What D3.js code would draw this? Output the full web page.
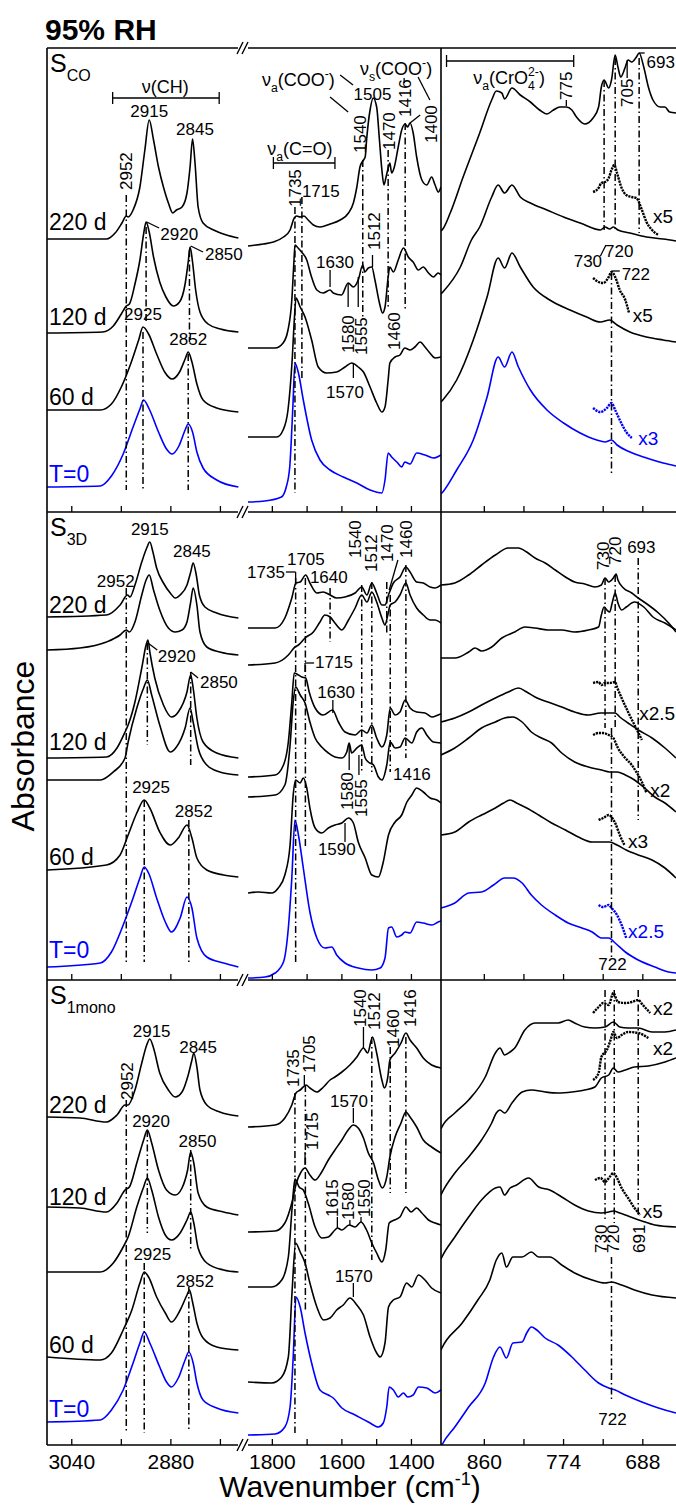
<!DOCTYPE html>
<html>
<head>
<meta charset="utf-8">
<script src="https://cdn.jsdelivr.net/npm/d3@7"></script>
<style>
  body { margin: 0; background: #fff; }
  svg { display: block; }
</style>
</head>
<body>
<svg id="chart" width="676" height="1506"></svg>
<script>
// ---------- axis extents (cm-1) and ticks ----------
const chDomain = [3080, 2770];
const cooDomain = [1870, 1315];
const crDomain = [907, 652];
const chTicks = [3040, 2960, 2880, 2800];
const chTickLabels = [3040, 2880];
const cooTicks = [1800, 1700, 1600, 1500, 1400];
const cooTickLabels = [1800, 1600, 1400];
const crTicks = [860, 817, 774, 731, 688];
const crTickLabels = [860, 774, 688];

// ---------- S_CO spectra: [wavenumber, absorbance (a.u., offset)] ----------
const coCH220 = [[3080,2.73],[2984,2.73],[2970,2.79],[2959,2.89],[2952,2.96],[2949,2.95],[2941,3.02],[2930,3.25],[2922,3.62],[2915,3.92],[2908,3.72],[2900,3.45],[2892,3.25],[2884,3.09],[2877,2.99],[2871,3.02],[2862,3.05],[2854,3.19],[2849,3.45],[2845,3.73],[2841,3.49],[2836,3.05],[2828,2.89],[2811,2.82],[2790,2.77],[2771,2.74]];
const coCH120 = [[3080,1.79],[2990,1.80],[2973,1.86],[2960,1.98],[2952,2.06],[2947,2.08],[2938,2.28],[2930,2.52],[2924,2.78],[2920,2.90],[2915,2.80],[2908,2.55],[2898,2.30],[2888,2.15],[2876,2.06],[2866,2.10],[2857,2.28],[2852,2.50],[2849,2.65],[2845,2.50],[2840,2.22],[2833,2.00],[2820,1.88],[2800,1.83],[2771,1.80]];
const coCH60 = [[3080,1.02],[2994,1.02],[2976,1.08],[2960,1.25],[2945,1.48],[2932,1.72],[2925,1.85],[2916,1.78],[2903,1.58],[2890,1.40],[2878,1.33],[2866,1.40],[2857,1.53],[2852,1.60],[2846,1.50],[2838,1.28],[2828,1.12],[2806,1.04],[2771,1.00]];
const coCH0 = [[3080,0.25],[2994,0.26],[2976,0.36],[2957,0.58],[2941,0.85],[2930,1.03],[2924,1.12],[2915,1.03],[2900,0.80],[2887,0.63],[2878,0.58],[2867,0.66],[2857,0.82],[2852,0.88],[2845,0.80],[2838,0.60],[2828,0.44],[2806,0.32],[2771,0.25]];

const coCOO220 = [[1870,2.66],[1826,2.68],[1797,2.70],[1768,2.75],[1749,2.82],[1737,2.94],[1730,2.96],[1720,2.95],[1709,2.96],[1697,2.92],[1682,2.87],[1663,2.85],[1634,2.88],[1605,2.92],[1581,2.99],[1567,3.09],[1557,3.25],[1548,3.45],[1538,3.52],[1533,3.55],[1529,3.72],[1519,4.02],[1510,4.14],[1500,4.05],[1492,3.72],[1485,3.42],[1479,3.27],[1473,3.35],[1466,3.45],[1462,3.49],[1457,3.39],[1450,3.44],[1438,3.65],[1428,3.82],[1418,3.88],[1411,3.85],[1404,3.89],[1395,3.79],[1385,3.55],[1370,3.32],[1356,3.27],[1342,3.35],[1332,3.27],[1323,3.20],[1315,3.25]];
const coCOO120 = [[1870,1.64],[1792,1.64],[1769,1.69],[1755,1.82],[1744,2.12],[1738,2.50],[1735,2.67],[1726,2.64],[1716,2.60],[1701,2.52],[1689,2.37],[1672,2.22],[1654,2.19],[1634,2.22],[1625,2.19],[1601,2.17],[1582,2.29],[1567,2.25],[1553,2.32],[1540,2.47],[1534,2.40],[1524,2.44],[1514,2.45],[1505,2.32],[1492,2.09],[1483,1.99],[1476,2.05],[1467,2.35],[1462,2.45],[1452,2.40],[1438,2.52],[1423,2.64],[1409,2.55],[1395,2.50],[1380,2.42],[1366,2.45],[1351,2.39],[1337,2.35],[1323,2.39],[1315,2.37]];
const coCOO60 = [[1870,0.75],[1787,0.75],[1769,0.82],[1755,1.02],[1743,1.52],[1736,1.97],[1732,2.14],[1720,2.05],[1706,1.95],[1687,1.72],[1668,1.45],[1644,1.39],[1615,1.40],[1591,1.45],[1572,1.49],[1553,1.45],[1538,1.40],[1519,1.25],[1500,1.09],[1485,1.00],[1476,1.05],[1467,1.32],[1462,1.49],[1447,1.55],[1433,1.57],[1419,1.64],[1404,1.62],[1390,1.65],[1375,1.70],[1361,1.65],[1347,1.59],[1332,1.54],[1315,1.55]];
const coCOO0 = [[1870,0.10],[1822,0.11],[1774,0.15],[1760,0.25],[1750,0.45],[1741,1.05],[1735,1.49],[1725,1.39],[1711,1.12],[1687,0.72],[1663,0.52],[1634,0.42],[1596,0.35],[1557,0.29],[1519,0.22],[1485,0.19],[1476,0.32],[1467,0.59],[1457,0.55],[1442,0.50],[1428,0.45],[1419,0.50],[1404,0.48],[1385,0.59],[1361,0.57],[1337,0.54],[1315,0.57]];

const coCr220 = [[907,2.81],[905,2.83],[897,2.99],[883,3.35],[865,3.79],[852,4.12],[847,4.21],[841,4.19],[838,4.13],[830,4.24],[821,4.17],[810,4.10],[800,4.02],[792,3.98],[785,4.02],[778,4.05],[771,4.05],[765,4.02],[760,3.95],[751,3.88],[742,3.94],[736,4.05],[733,4.25],[730,4.32],[725,4.24],[722,4.32],[718,4.57],[715,4.45],[712,4.35],[707,4.45],[704,4.52],[700,4.50],[695,4.55],[692,4.59],[687,4.45],[682,4.25],[677,4.12],[669,4.05],[664,4.05],[659,4.00],[652,3.99]];
const coCr120 = [[907,2.18],[905,2.20],[886,2.45],[874,2.72],[865,2.85],[852,3.15],[845,3.27],[838,3.19],[830,3.27],[821,3.15],[810,3.09],[792,3.02],[774,2.95],[756,2.89],[734,2.82],[729,2.85],[724,2.83],[720,2.85],[715,2.82],[702,2.79],[684,2.75],[666,2.73],[652,2.71]];
const coCr60 = [[907,1.10],[905,1.12],[890,1.32],[872,1.72],[857,2.15],[845,2.54],[838,2.44],[830,2.59],[821,2.45],[807,2.25],[789,2.12],[767,2.02],[749,1.95],[734,1.90],[724,1.92],[716,1.87],[702,1.80],[684,1.75],[666,1.72],[652,1.70]];
const coCr0 = [[907,0.18],[905,0.20],[890,0.42],[872,0.72],[857,1.15],[845,1.55],[838,1.45],[830,1.60],[823,1.45],[810,1.22],[792,1.02],[774,0.89],[756,0.79],[738,0.72],[729,0.70],[722,0.72],[716,0.67],[702,0.60],[684,0.54],[666,0.49],[652,0.46]];
// magnified traces (x5, x5, x3)
const coCr120x5 = [[742,3.20],[736,3.24],[733,3.29],[729,3.30],[725,3.34],[722,3.42],[719,3.47],[716,3.39],[711,3.24],[706,3.17],[700,3.15],[695,3.14],[689,3.02],[684,2.90],[678,2.82],[671,2.77]];
const coCr60x5 = [[742,2.34],[736,2.30],[731,2.29],[725,2.35],[722,2.40],[718,2.35],[713,2.22],[707,2.12],[703,1.99]];
const coCr0x3 = [[742,1.04],[734,1.00],[727,1.04],[722,1.09],[718,1.02],[713,0.92],[706,0.80],[700,0.74]];

// ---------- S_3D spectra ----------
const d3CH220 = [[3080,3.63],[2984,3.65],[2962,3.75],[2950,3.85],[2946,3.83],[2938,3.95],[2927,4.18],[2919,4.32],[2914,4.38],[2909,4.28],[2903,4.12],[2892,3.97],[2881,3.87],[2873,3.82],[2865,3.85],[2854,3.95],[2848,4.08],[2844,4.17],[2839,4.05],[2834,3.85],[2825,3.73],[2806,3.67],[2771,3.62]];
const d3CH220b = [[3080,3.30],[3027,3.32],[2984,3.38],[2962,3.45],[2952,3.50],[2947,3.48],[2938,3.58],[2927,3.85],[2920,4.00],[2915,4.05],[2908,3.90],[2898,3.70],[2884,3.52],[2873,3.48],[2862,3.50],[2854,3.58],[2848,3.78],[2844,3.92],[2838,3.75],[2833,3.48],[2822,3.33],[2801,3.28],[2771,3.25]];
const d3CH120 = [[3080,2.22],[2984,2.23],[2967,2.32],[2954,2.48],[2949,2.55],[2938,2.78],[2927,3.12],[2920,3.35],[2917,3.40],[2914,3.28],[2906,3.02],[2892,2.75],[2879,2.63],[2868,2.68],[2854,2.88],[2848,3.05],[2844,2.92],[2838,2.62],[2828,2.38],[2806,2.27],[2771,2.22]];
const d3CH120b = [[3080,2.00],[2994,2.00],[2973,2.08],[2954,2.22],[2949,2.38],[2935,2.72],[2924,2.92],[2918,3.00],[2911,2.85],[2898,2.55],[2881,2.28],[2871,2.33],[2857,2.52],[2849,2.72],[2844,2.58],[2836,2.32],[2822,2.15],[2801,2.08],[2771,2.05]];
const d3CH60 = [[3080,1.10],[2984,1.15],[2962,1.25],[2949,1.45],[2935,1.67],[2923,1.80],[2914,1.72],[2898,1.48],[2881,1.35],[2868,1.42],[2854,1.55],[2846,1.42],[2838,1.22],[2822,1.10],[2795,1.05],[2771,1.03]];
const d3CH0 = [[3080,0.13],[2994,0.17],[2976,0.28],[2957,0.55],[2941,0.82],[2930,1.02],[2923,1.13],[2916,1.07],[2903,0.82],[2889,0.58],[2879,0.48],[2865,0.62],[2854,0.83],[2846,0.72],[2838,0.42],[2822,0.23],[2795,0.17],[2771,0.13]];

const d3COO220 = [[1870,3.52],[1792,3.52],[1764,3.62],[1744,3.82],[1732,3.97],[1720,3.98],[1704,4.05],[1692,3.97],[1672,3.87],[1654,3.88],[1634,3.85],[1615,3.82],[1591,3.83],[1562,3.87],[1543,3.93],[1528,3.85],[1514,3.97],[1500,3.87],[1485,3.75],[1476,3.75],[1466,3.85],[1452,3.97],[1433,4.03],[1416,4.13],[1404,4.08],[1385,3.98],[1366,3.97],[1346,3.93],[1332,3.92],[1315,3.95]];
const d3COO220b = [[1870,3.15],[1792,3.17],[1754,3.25],[1735,3.33],[1725,3.35],[1706,3.42],[1682,3.48],[1663,3.58],[1649,3.65],[1634,3.63],[1620,3.57],[1600,3.50],[1581,3.60],[1562,3.72],[1543,3.85],[1528,3.78],[1514,3.88],[1500,3.78],[1485,3.62],[1476,3.55],[1468,3.65],[1461,3.75],[1447,3.78],[1433,3.85],[1416,3.97],[1404,3.85],[1385,3.72],[1366,3.65],[1346,3.60],[1332,3.60],[1315,3.57]];
const d3COO120 = [[1870,2.03],[1792,2.05],[1768,2.15],[1754,2.38],[1744,2.78],[1737,3.07],[1725,3.05],[1715,3.03],[1704,3.02],[1694,2.88],[1677,2.72],[1654,2.65],[1627,2.70],[1610,2.58],[1591,2.48],[1562,2.45],[1543,2.50],[1528,2.47],[1514,2.55],[1500,2.42],[1485,2.33],[1471,2.45],[1461,2.72],[1447,2.65],[1433,2.68],[1418,2.80],[1404,2.72],[1385,2.68],[1361,2.67],[1341,2.63],[1323,2.65],[1315,2.66]];
const d3COO120b = [[1870,1.83],[1792,1.85],[1764,1.95],[1749,2.35],[1740,2.78],[1733,2.93],[1720,2.85],[1706,2.77],[1692,2.58],[1677,2.42],[1658,2.33],[1639,2.27],[1620,2.23],[1600,2.22],[1586,2.28],[1579,2.37],[1572,2.27],[1557,2.32],[1543,2.35],[1533,2.22],[1524,2.18],[1509,2.15],[1495,2.03],[1485,2.00],[1471,2.15],[1461,2.38],[1447,2.32],[1433,2.33],[1418,2.42],[1399,2.37],[1385,2.48],[1370,2.52],[1356,2.45],[1337,2.38],[1315,2.37]];
const d3COO60 = [[1870,0.87],[1840,0.88],[1802,0.87],[1783,0.92],[1764,1.05],[1749,1.35],[1740,1.85],[1733,2.00],[1720,1.97],[1711,2.02],[1701,1.92],[1692,1.72],[1677,1.52],[1658,1.47],[1639,1.52],[1620,1.55],[1600,1.57],[1581,1.62],[1567,1.57],[1553,1.38],[1533,1.22],[1514,1.05],[1495,1.03],[1481,1.18],[1466,1.45],[1447,1.58],[1428,1.65],[1413,1.78],[1399,1.85],[1385,1.92],[1366,1.88],[1346,1.82],[1327,1.80],[1315,1.77]];
const d3COO0 = [[1870,0.02],[1821,0.03],[1792,0.07],[1768,0.18],[1754,0.52],[1744,1.02],[1735,1.60],[1725,1.45],[1711,1.12],[1692,0.68],[1672,0.42],[1649,0.32],[1629,0.33],[1615,0.25],[1591,0.17],[1553,0.12],[1514,0.10],[1490,0.12],[1476,0.22],[1466,0.52],[1457,0.53],[1442,0.43],[1428,0.45],[1418,0.48],[1404,0.47],[1385,0.58],[1366,0.57],[1341,0.55],[1323,0.58],[1315,0.59]];

const d3Cr220 = [[907,3.95],[892,3.97],[877,4.05],[863,4.15],[848,4.25],[834,4.32],[823,4.32],[814,4.28],[805,4.22],[794,4.17],[783,4.10],[772,4.03],[762,3.98],[751,3.96],[740,3.93],[733,3.95],[729,4.02],[725,3.98],[720,4.02],[717,4.06],[715,4.00],[709,3.92],[700,3.87],[693,3.82],[682,3.75],[671,3.67],[660,3.57],[652,3.48]];
const d3Cr220b = [[907,3.22],[892,3.22],[877,3.28],[870,3.32],[863,3.29],[852,3.33],[841,3.42],[827,3.48],[816,3.53],[805,3.52],[791,3.50],[776,3.50],[762,3.48],[747,3.50],[736,3.53],[733,3.65],[730,3.73],[727,3.70],[724,3.68],[721,3.78],[718,3.87],[715,3.77],[711,3.70],[706,3.73],[697,3.78],[687,3.73],[677,3.63],[664,3.57],[652,3.50]];
const d3Cr120 = [[907,2.58],[892,2.62],[877,2.68],[863,2.75],[848,2.82],[834,2.88],[823,2.92],[814,2.88],[805,2.83],[791,2.78],[776,2.73],[762,2.68],[747,2.65],[734,2.67],[725,2.67],[718,2.67],[713,2.63],[704,2.57],[693,2.50],[678,2.42],[664,2.32],[652,2.22]];
const d3Cr120b = [[907,2.25],[892,2.32],[877,2.42],[863,2.52],[848,2.58],[838,2.62],[829,2.63],[819,2.58],[809,2.48],[798,2.42],[787,2.37],[776,2.27],[762,2.18],[747,2.13],[733,2.10],[724,2.08],[716,2.08],[707,2.05],[697,2.00],[686,1.92],[675,1.83],[664,1.77],[652,1.68]];
const d3Cr60 = [[907,1.45],[892,1.48],[877,1.58],[863,1.65],[848,1.72],[839,1.77],[832,1.80],[825,1.77],[814,1.72],[801,1.65],[787,1.57],[772,1.50],[758,1.43],[743,1.38],[733,1.38],[724,1.38],[716,1.35],[706,1.30],[693,1.25],[678,1.20],[664,1.12],[652,1.02]];
const d3Cr0 = [[907,0.72],[892,0.77],[877,0.87],[863,0.88],[850,0.95],[838,1.02],[829,1.02],[819,0.97],[809,0.85],[798,0.75],[783,0.65],[769,0.57],[754,0.52],[743,0.48],[733,0.42],[725,0.42],[718,0.37],[707,0.28],[693,0.20],[675,0.13],[660,0.08],[652,0.07]];
// magnified traces (x2.5, x2, x3, x2.5)
const d3Cr120x25 = [[742,2.97],[736,2.98],[733,2.95],[729,2.97],[724,2.97],[718,2.98],[716,2.93],[711,2.82],[704,2.68],[697,2.55],[689,2.40]];
const d3Cr120bx2 = [[742,2.45],[736,2.47],[731,2.47],[725,2.45],[720,2.42],[715,2.32],[707,2.22],[700,2.15],[695,2.08],[689,1.98],[684,1.87]];
const d3Cr60x3 = [[736,1.60],[731,1.62],[725,1.65],[722,1.63],[718,1.57],[713,1.45],[708,1.35]];
const d3Cr0x25 = [[736,0.75],[731,0.73],[725,0.75],[722,0.72],[716,0.65],[711,0.55],[706,0.42]];

// ---------- S_1mono spectra ----------
const monoCH220 = [[3080,3.28],[3027,3.27],[2984,3.23],[2967,3.30],[2954,3.40],[2949,3.40],[2938,3.55],[2927,3.82],[2919,4.00],[2914,4.06],[2908,3.97],[2898,3.72],[2884,3.55],[2873,3.48],[2862,3.53],[2852,3.70],[2846,3.85],[2843,3.92],[2838,3.78],[2833,3.55],[2822,3.40],[2801,3.33],[2771,3.29]];
const monoCH120 = [[3080,2.38],[3027,2.37],[2984,2.33],[2967,2.42],[2954,2.55],[2947,2.58],[2935,2.82],[2924,3.05],[2918,3.15],[2911,3.02],[2900,2.75],[2887,2.55],[2873,2.50],[2862,2.57],[2853,2.75],[2848,2.93],[2843,2.82],[2836,2.52],[2822,2.38],[2795,2.33],[2771,2.30]];
const monoCH120b = [[3080,1.73],[2994,1.73],[2973,1.82],[2957,1.98],[2949,2.08],[2935,2.38],[2924,2.58],[2918,2.67],[2911,2.55],[2900,2.28],[2889,2.10],[2879,2.05],[2865,2.12],[2854,2.25],[2848,2.33],[2843,2.22],[2836,1.97],[2822,1.82],[2795,1.75],[2771,1.73]];
const monoCH60 = [[3080,0.88],[2994,0.85],[2976,0.92],[2957,1.15],[2943,1.35],[2930,1.62],[2923,1.73],[2916,1.68],[2903,1.48],[2889,1.32],[2879,1.23],[2865,1.35],[2854,1.50],[2850,1.55],[2845,1.43],[2838,1.22],[2828,1.07],[2806,0.98],[2771,0.95]];
const monoCH0 = [[3080,0.23],[2994,0.25],[2976,0.35],[2957,0.55],[2941,0.82],[2930,1.02],[2923,1.13],[2914,1.02],[2898,0.78],[2887,0.63],[2879,0.58],[2868,0.67],[2857,0.85],[2851,0.93],[2844,0.82],[2838,0.62],[2828,0.45],[2806,0.37],[2771,0.32]];

const monoCOO220 = [[1870,3.18],[1792,3.20],[1764,3.27],[1744,3.40],[1732,3.52],[1720,3.55],[1703,3.60],[1692,3.57],[1672,3.53],[1653,3.58],[1634,3.65],[1620,3.68],[1600,3.73],[1577,3.80],[1557,3.88],[1538,3.97],[1526,3.92],[1512,4.08],[1500,3.92],[1485,3.65],[1478,3.57],[1468,3.68],[1462,3.85],[1447,3.92],[1430,4.02],[1416,4.12],[1404,4.05],[1385,3.97],[1366,3.87],[1342,3.80],[1315,3.77]];
const monoCOO120 = [[1870,2.13],[1792,2.14],[1764,2.22],[1744,2.42],[1730,2.63],[1719,2.72],[1706,2.77],[1692,2.70],[1677,2.65],[1658,2.73],[1639,2.85],[1620,2.95],[1600,3.05],[1582,3.15],[1567,3.20],[1553,3.17],[1538,3.07],[1524,2.92],[1509,2.82],[1495,2.65],[1484,2.57],[1471,2.68],[1462,2.88],[1447,3.08],[1430,3.22],[1416,3.33],[1404,3.28],[1385,3.18],[1366,3.05],[1342,2.98],[1315,2.92]];
const monoCOO120b = [[1870,1.58],[1802,1.58],[1773,1.65],[1754,1.88],[1743,2.38],[1735,2.66],[1723,2.58],[1711,2.55],[1697,2.42],[1677,2.18],[1658,2.07],[1639,2.08],[1620,2.15],[1613,2.17],[1600,2.15],[1579,2.20],[1562,2.18],[1545,2.23],[1529,2.15],[1514,2.02],[1500,1.92],[1485,1.83],[1474,1.95],[1464,2.22],[1449,2.25],[1433,2.28],[1416,2.38],[1401,2.33],[1385,2.37],[1370,2.32],[1351,2.25],[1332,2.22],[1315,2.20]];
const monoCOO60 = [[1870,0.63],[1802,0.62],[1773,0.68],[1754,0.88],[1743,1.55],[1733,2.02],[1720,1.93],[1706,1.82],[1692,1.62],[1672,1.38],[1653,1.25],[1634,1.27],[1615,1.35],[1596,1.40],[1577,1.47],[1557,1.40],[1538,1.30],[1519,1.08],[1500,0.92],[1490,0.88],[1476,1.02],[1466,1.38],[1452,1.45],[1433,1.48],[1414,1.62],[1399,1.58],[1380,1.70],[1361,1.65],[1342,1.57],[1315,1.52]];
const monoCOO0 = [[1870,0.10],[1792,0.11],[1764,0.18],[1749,0.38],[1740,0.88],[1732,1.48],[1720,1.38],[1706,1.12],[1687,0.82],[1663,0.55],[1639,0.50],[1625,0.47],[1600,0.37],[1562,0.30],[1524,0.23],[1495,0.18],[1481,0.22],[1471,0.38],[1464,0.58],[1452,0.55],[1438,0.48],[1423,0.52],[1411,0.48],[1395,0.50],[1380,0.58],[1356,0.57],[1332,0.52],[1315,0.55]];

const monoCr220 = [[907,3.16],[906,3.18],[892,3.32],[877,3.45],[859,3.68],[848,3.92],[843,3.97],[838,3.90],[832,3.93],[827,3.97],[816,4.15],[805,4.22],[791,4.22],[780,4.22],[769,4.25],[762,4.22],[751,4.18],[740,4.17],[729,4.18],[720,4.23],[713,4.18],[704,4.17],[693,4.17],[678,4.13],[664,4.13],[652,4.15]];
const monoCr120 = [[907,2.50],[906,2.52],[892,2.72],[877,2.88],[863,3.05],[852,3.22],[847,3.32],[843,3.35],[838,3.32],[830,3.42],[819,3.53],[809,3.55],[794,3.53],[780,3.52],[765,3.53],[751,3.55],[740,3.58],[733,3.67],[725,3.70],[720,3.77],[715,3.73],[707,3.75],[697,3.78],[682,3.79],[664,3.83],[652,3.87]];
const monoCr120b = [[907,1.86],[906,1.88],[892,2.08],[877,2.28],[863,2.45],[848,2.57],[843,2.58],[838,2.50],[832,2.57],[825,2.60],[812,2.67],[801,2.58],[789,2.55],[776,2.48],[762,2.40],[747,2.34],[733,2.32],[725,2.33],[720,2.34],[713,2.32],[704,2.29],[689,2.24],[675,2.20],[652,2.18]];
const monoCr60 = [[907,0.95],[906,0.97],[884,1.22],[867,1.45],[854,1.65],[847,1.85],[841,1.92],[836,1.78],[829,1.88],[819,1.88],[809,1.93],[801,1.88],[789,1.88],[776,1.80],[762,1.72],[743,1.65],[729,1.62],[722,1.63],[711,1.60],[697,1.55],[678,1.50],[652,1.47]];
const monoCr0 = [[907,-0.02],[906,0.00],[892,0.18],[877,0.38],[859,0.62],[850,0.88],[843,0.98],[836,0.87],[829,1.02],[819,1.03],[814,1.12],[809,1.18],[803,1.15],[794,1.07],[780,1.00],[765,0.88],[751,0.75],[736,0.62],[725,0.57],[718,0.55],[707,0.50],[689,0.43],[671,0.37],[652,0.32]];
// magnified traces (x2, x2, x5)
const monoCr220x2 = [[742,4.32],[736,4.38],[731,4.42],[725,4.40],[720,4.52],[715,4.43],[707,4.42],[700,4.43],[693,4.45],[688,4.40],[680,4.32]];
const monoCr120x2 = [[742,3.65],[736,3.72],[733,3.88],[727,3.95],[723,4.05],[720,4.13],[716,4.07],[711,4.10],[704,4.13],[693,4.12],[682,4.07]];
const monoCr120bx5 = [[740,2.65],[734,2.67],[729,2.63],[724,2.68],[720,2.72],[716,2.67],[711,2.57],[704,2.47],[697,2.37],[691,2.30]];

// ---------- labels: time series, peak notes [text, segment, cm-1, level, kind] ----------
const dayNames = ["220 d", "120 d", "60 d", "T=0"];
const coDayLevels = [2.82, 1.87, 1.07, 0.30];
const d3DayLevels = [3.67, 2.30, 1.15, 0.22];
const monoDayLevels = [3.32, 2.40, 0.92, 0.28];

const coNotes = [
  ["ν(CH)","ch",2889,4.19,"c"],["2915","ch",2915,3.95,"c"],["2845","ch",2841,3.77,"c"],
  ["2952","ch",2952,3.22,"v"],["2920","ch",2897,2.72,"l"],["2850","ch",2825,2.52,"l"],
  ["2925","ch",2925,1.92,"c"],["2852","ch",2852,1.67,"c"],
  ["ν_{a}(COO^{-})","coo",1830,4.26,"l"],["ν_{s}(COO^{-})","coo",1548,4.37,"l"],
  ["1505","coo",1512,4.12,"c"],["1540","coo",1548,3.59,"v"],["1470","coo",1464,3.62,"v"],
  ["1416","coo",1418,3.95,"v"],["1400","coo",1344,3.69,"v"],["ν_{a}(C=O)","coo",1815,3.57,"l"],
  ["1735","coo",1735,3.05,"v"],["1715","coo",1715,3.15,"l"],["1512","coo",1508,2.62,"v"],
  ["1630","coo",1620,2.44,"c"],["1580","coo",1582,1.59,"v"],["1555","coo",1545,1.57,"v"],
  ["1460","coo",1450,1.62,"v"],["1570","coo",1591,1.14,"c"],
  ["ν_{a}(CrO_{4}^{2-})","cr",872,4.28,"l"],["775","cr",771,4.12,"v"],["705","cr",705,4.05,"v"],
  ["693","cr",684,4.44,"l"],["730","cr",763,2.45,"l"],["720","cr",729,2.55,"l"],["722","cr",711,2.32,"l"],
  ["x5","cr",677,2.89,"l"],["x5","cr",699,1.90,"l"],["x3","cr",693,0.67,"lb"]
];
const d3Notes = [
  ["2915","ch",2914,4.45,"c"],["2845","ch",2846,4.23,"c"],["2952","ch",2969,3.93,"c"],
  ["2920","ch",2901,3.18,"l"],["2850","ch",2833,2.92,"l"],["2925","ch",2912,1.87,"c"],["2852","ch",2843,1.63,"c"],
  ["1735","coo",1764,4.02,"r"],["1705","coo",1758,4.15,"l"],["1640","coo",1692,3.97,"l"],
  ["1540","coo",1562,4.22,"v"],["1512","coo",1516,4.08,"v"],["1470","coo",1470,4.18,"v"],["1460","coo",1416,4.22,"v"],
  ["1715","coo",1677,3.12,"l"],["1630","coo",1671,2.82,"l"],["1580","coo",1585,1.70,"v"],["1555","coo",1545,1.63,"v"],
  ["1416","coo",1453,2.00,"l"],["1590","coo",1669,1.25,"l"],
  ["730","cr",731,4.10,"v"],["720","cr",718,4.15,"v"],["693","cr",705,4.27,"l"],
  ["x2.5","cr",692,2.60,"l"],["x2","cr",680,1.83,"l"],["x3","cr",704,1.32,"l"],["x2.5","cr",704,0.42,"lb"],["722","cr",721,0.10,"c"]
];
const monoNotes = [
  ["2915","ch",2911,4.08,"c"],["2845","ch",2836,3.92,"c"],["2952","ch",2951,3.45,"v"],
  ["2920","ch",2912,3.18,"c"],["2850","ch",2837,2.98,"c"],["2925","ch",2910,1.85,"c"],["2852","ch",2841,1.58,"c"],
  ["1735","coo",1741,3.58,"v"],["1705","coo",1695,3.72,"v"],["1540","coo",1548,4.18,"v"],["1512","coo",1508,4.15,"v"],
  ["1460","coo",1453,3.98,"v"],["1416","coo",1404,4.18,"v"],["1570","coo",1634,3.38,"l"],["1715","coo",1686,2.95,"v"],
  ["1615","coo",1628,2.28,"v"],["1580","coo",1582,2.25,"v"],["1550","coo",1536,2.28,"v"],["1570","coo",1620,1.63,"l"],
  ["x2","cr",677,4.30,"l"],["x2","cr",677,3.90,"l"],["x5","cr",688,2.27,"l"],
  ["730","cr",734,1.92,"v"],["720","cr",720,1.92,"v"],["691","cr",692,1.92,"v"],["722","cr",721,0.20,"c"]
];

// ---------- band guides [segment, cm-1 from, level from, cm-1 to, level to, dash-dot?] ----------
const coGuides = [
  ["ch",2952,3.17,2952,0.22,1],["ch",2920,2.85,2920,1.90,1],["ch",2925,1.80,2925,0.22,1],
  ["ch",2850,2.62,2850,1.70,1],["ch",2852,1.58,2852,0.22,1],
  ["ch",2974,4.14,2802,4.14,0],["ch",2974,4.20,2974,4.08,0],["ch",2802,4.20,2802,4.08,0],
  ["ch",2919,2.90,2899,2.84,0],["ch",2848,2.66,2828,2.60,0],
  ["coo",1735,3.05,1735,0.19,1],["coo",1715,3.15,1715,1.31,1],["coo",1540,3.52,1540,1.92,1],
  ["coo",1467,3.62,1467,2.05,1],["coo",1418,3.89,1418,2.02,1],
  ["coo",1512,2.57,1512,2.45,0],["coo",1605,4.37,1568,4.27,0],["coo",1634,4.15,1582,4.00,0],
  ["coo",1421,4.34,1421,4.29,0],["coo",1381,4.35,1347,4.12,0],["coo",1404,3.89,1375,3.97,0],
  ["coo",1797,3.49,1620,3.49,0],["coo",1797,3.55,1797,3.43,0],["coo",1620,3.55,1620,3.43,0],
  ["coo",1634,2.42,1634,2.25,0],["coo",1582,2.29,1582,2.05,0],["coo",1553,2.35,1553,2.05,0],["coo",1567,1.49,1567,1.34,0],
  ["cr",730,4.32,730,2.82,1],["cr",718,4.54,718,2.82,1],["cr",692,4.54,692,2.79,1],["cr",722,2.39,722,0.39,1],
  ["cr",901,4.51,763,4.51,0],["cr",901,4.57,901,4.45,0],["cr",763,4.57,763,4.45,0],
  ["cr",771,4.12,771,4.06,0],["cr",705,4.52,705,4.34,0],["cr",692,4.59,686,4.59,0],
  ["cr",722,2.41,713,2.41,0],["cr",734,2.56,728,2.67,0]
];
const d3Guides = [
  ["ch",2952,3.92,2952,0.18,1],["ch",2918,3.37,2918,2.35,1],["ch",2923,1.80,2923,0.18,1],
  ["ch",2848,3.08,2848,2.15,1],["ch",2851,1.60,2851,0.18,1],
  ["ch",2917,3.37,2902,3.30,0],["ch",2848,3.08,2836,3.02,0],
  ["coo",1733,4.02,1733,0.18,1],["coo",1705,4.02,1705,1.32,1],["coo",1634,3.92,1634,3.38,1],
  ["coo",1543,3.95,1543,2.08,1],["coo",1514,3.98,1514,2.08,1],["coo",1471,3.98,1471,3.45,1],
  ["coo",1461,3.85,1461,2.08,1],["coo",1416,4.15,1416,2.22,1],
  ["coo",1761,4.08,1733,4.08,0],["coo",1733,4.08,1733,3.97,0],["coo",1439,4.20,1464,3.90,0],
  ["coo",1706,3.17,1680,3.17,0],["coo",1706,3.17,1706,3.08,0],["coo",1626,2.80,1626,2.67,0],
  ["coo",1579,2.35,1579,2.10,0],["coo",1551,2.25,1551,2.05,0],["coo",1591,1.57,1591,1.38,0],
  ["cr",729,4.02,729,2.52,1],["cr",718,4.05,718,2.52,1],["cr",693,4.22,693,1.60,1],["cr",722,2.52,722,0.22,1]
];
const monoGuides = [
  ["ch",2952,3.45,2952,0.13,1],["ch",2918,3.15,2918,2.12,1],["ch",2923,1.82,2923,0.12,1],
  ["ch",2848,2.95,2848,1.95,1],["ch",2851,1.58,2851,0.15,1],
  ["coo",1735,3.52,1735,0.12,1],["coo",1705,3.60,1705,1.35,1],["coo",1514,4.08,1514,1.85,1],
  ["coo",1461,3.98,1461,2.52,1],["coo",1416,4.08,1416,2.52,1],
  ["coo",1708,3.70,1708,3.60,0],["coo",1538,4.18,1538,3.97,0],["coo",1567,3.37,1567,3.22,0],
  ["coo",1706,2.93,1706,2.80,0],["coo",1613,2.28,1613,2.17,0],["coo",1577,2.25,1577,2.20,0],
  ["coo",1545,2.28,1545,2.23,0],["coo",1567,1.62,1567,1.48,0],
  ["cr",729,4.55,729,2.25,1],["cr",719,4.55,719,2.22,1],["cr",693,4.55,693,2.28,1],["cr",722,1.88,722,0.45,1]
];

// ---------- layout ----------
const W = 676, H = 1506;
const FONT = '"Liberation Sans", Arial, Helvetica, sans-serif';
const BLUE = "#0000ff";
const leftX = 47, breakL = 238, breakR = 248, divX = 441;
const segX = {
  ch: d3.scaleLinear().domain(chDomain).range([leftX, 239]),
  coo: d3.scaleLinear().domain(cooDomain).range([breakR, divX]),
  cr: d3.scaleLinear().domain(crDomain).range([divX, W])
};

const panels = [
  { main: "S", sub: "CO", top: 48, bottom: 512,
    curves: { ch: [coCH220, coCH120, coCH60, coCH0], coo: [coCOO220, coCOO120, coCOO60, coCOO0], cr: [coCr220, coCr120, coCr60, coCr0] },
    insets: [[coCr120x5, 0], [coCr60x5, 0], [coCr0x3, 1]],
    notes: coNotes, guides: coGuides, days: coDayLevels },
  { main: "S", sub: "3D", top: 512, bottom: 980,
    curves: { ch: [d3CH220, d3CH220b, d3CH120, d3CH120b, d3CH60, d3CH0], coo: [d3COO220, d3COO220b, d3COO120, d3COO120b, d3COO60, d3COO0], cr: [d3Cr220, d3Cr220b, d3Cr120, d3Cr120b, d3Cr60, d3Cr0] },
    insets: [[d3Cr120x25, 0], [d3Cr120bx2, 0], [d3Cr60x3, 0], [d3Cr0x25, 1]],
    notes: d3Notes, guides: d3Guides, days: d3DayLevels },
  { main: "S", sub: "1mono", top: 980, bottom: 1445,
    curves: { ch: [monoCH220, monoCH120, monoCH120b, monoCH60, monoCH0], coo: [monoCOO220, monoCOO120, monoCOO120b, monoCOO60, monoCOO0], cr: [monoCr220, monoCr120, monoCr120b, monoCr60, monoCr0] },
    insets: [[monoCr220x2, 0], [monoCr120x2, 0], [monoCr120bx5, 0]],
    notes: monoNotes, guides: monoGuides, days: monoDayLevels }
];

const svg = d3.select("#chart").attr("font-family", FONT);
svg.append("rect").attr("width", W).attr("height", H).attr("fill", "#fff");
const defs = svg.append("defs");

// rich text: _{sub} and ^{sup}; a superscript right after a subscript is stacked over it
function richText(sel, str, fs) {
  const parts = str.split(/(_\{[^}]*\}|\^\{[^}]*\})/).filter(s => s.length);
  let cur = 0, lastSubLen = 0, prevSub = false;
  parts.forEach(pt => {
    let target = 0, t = pt, size = fs, dx = 0;
    if (pt.startsWith("_{")) { t = pt.slice(2, -1); target = fs * 0.32; size = fs * 0.68; }
    else if (pt.startsWith("^{")) {
      t = pt.slice(2, -1); target = -fs * 0.42; size = fs * 0.68;
      if (prevSub) dx = -lastSubLen * size * 0.56;
    }
    const ts = sel.append("tspan").attr("font-size", size).attr("dy", target - cur).text(t);
    if (dx) ts.attr("dx", dx);
    cur = target;
    prevSub = pt.startsWith("_{");
    lastSubLen = prevSub ? t.length : 0;
  });
}

const lineGen = (xs, ys) => d3.line().x(d => xs(d[0])).y(d => ys(d[1])).curve(d3.curveMonotoneX);

panels.forEach((p, pi) => {
  const y = d3.scaleLinear().domain([0, (p.bottom - p.top) / 100]).range([p.bottom, p.top]);
  const g = svg.append("g");

  ["ch", "coo", "cr"].forEach(seg => {
    const xs = segX[seg];
    const id = `clip-${pi}-${seg}`;
    const r = xs.range();
    defs.append("clipPath").attr("id", id).append("rect")
      .attr("x", r[0]).attr("y", p.top).attr("width", r[1] - r[0]).attr("height", p.bottom - p.top);
    const cg = g.append("g").attr("clip-path", `url(#${id})`);
    const list = p.curves[seg];
    list.forEach((c, i) => {
      cg.append("path").datum(c).attr("d", lineGen(xs, y))
        .attr("fill", "none").attr("stroke", i === list.length - 1 ? BLUE : "#000")
        .attr("stroke-width", 1.6).attr("stroke-linejoin", "round");
    });
    if (seg === "cr") {
      p.insets.forEach(([c, blue]) => {
        cg.append("path").datum(c).attr("d", lineGen(xs, y))
          .attr("fill", "none").attr("stroke", blue ? BLUE : "#000")
          .attr("stroke-width", 2.4).attr("stroke-dasharray", "2.2,0.9");
      });
    }
  });

  // band guides and leaders
  p.guides.forEach(([seg, w1, v1, w2, v2, dd]) => {
    const xs = segX[seg];
    g.append("line").attr("x1", xs(w1)).attr("y1", y(v1)).attr("x2", xs(w2)).attr("y2", y(v2))
      .attr("stroke", "#000").attr("stroke-width", dd ? 1.5 : 1.3)
      .attr("stroke-dasharray", dd ? "7,3,1.5,3" : null);
  });

  // peak notes
  p.notes.forEach(([txt, seg, w, v, kind]) => {
    const xs = segX[seg];
    const rich = txt.includes("_{") || txt.includes("^{") || txt.startsWith("ν");
    const fs = rich ? 18 : (txt.startsWith("x") ? 19 : 17);
    const t = g.append("text").attr("font-size", fs)
      .attr("fill", kind === "lb" ? BLUE : "#000");
    if (kind === "v") {
      t.attr("transform", `translate(${xs(w)},${y(v)}) rotate(-90)`).attr("dy", "0.36em").attr("text-anchor", "start");
    } else {
      t.attr("x", xs(w)).attr("y", y(v))
        .attr("text-anchor", kind === "c" ? "middle" : (kind === "r" ? "end" : "start"));
    }
    if (rich) richText(t, txt, fs); else t.text(txt);
  });

  // time labels
  p.days.forEach((v, i) => {
    g.append("text").attr("x", 49).attr("y", y(v)).attr("font-size", 23)
      .attr("fill", i === p.days.length - 1 ? BLUE : "#000").text(dayNames[i]);
  });

  // sample label
  const st = g.append("text").attr("x", 50).attr("y", p.top + 24).attr("font-size", 25);
  st.append("tspan").text(p.main);
  st.append("tspan").attr("font-size", 16).attr("dy", 9).text(p.sub);

  // bottom edge of the panel with inward ticks
  [[leftX, breakL], [breakR, W]].forEach(([a, b]) => {
    g.append("line").attr("x1", a).attr("x2", b).attr("y1", p.bottom).attr("y2", p.bottom)
      .attr("stroke", "#000").attr("stroke-width", 1.6);
  });
  [["ch", chTicks], ["coo", cooTicks], ["cr", crTicks]].forEach(([seg, ticks]) => {
    ticks.forEach(tk => {
      const x = segX[seg](tk);
      g.append("line").attr("x1", x).attr("x2", x).attr("y1", p.bottom).attr("y2", p.bottom - 6)
        .attr("stroke", "#000").attr("stroke-width", 1.3);
    });
  });
});

// frame: top edge, left edge, segment divider
[[leftX, breakL], [breakR, W]].forEach(([a, b]) => {
  svg.append("line").attr("x1", a).attr("x2", b).attr("y1", 48).attr("y2", 48)
    .attr("stroke", "#000").attr("stroke-width", 1.6);
});
svg.append("line").attr("x1", leftX).attr("x2", leftX).attr("y1", 48).attr("y2", 1445)
  .attr("stroke", "#000").attr("stroke-width", 1.6);
svg.append("line").attr("x1", divX).attr("x2", divX).attr("y1", 48).attr("y2", 1445)
  .attr("stroke", "#000").attr("stroke-width", 1.6);

// axis breaks
[48, 512, 980, 1445].forEach(yy => {
  [240, 245].forEach(xx => {
    svg.append("line").attr("x1", xx - 3).attr("y1", yy + 6).attr("x2", xx + 3).attr("y2", yy - 6)
      .attr("stroke", "#000").attr("stroke-width", 1.4);
  });
});

// tick labels
[["ch", chTickLabels], ["coo", cooTickLabels], ["cr", crTickLabels]].forEach(([seg, labs]) => {
  labs.forEach(v => {
    svg.append("text").attr("x", segX[seg](v)).attr("y", 1469).attr("text-anchor", "middle")
      .attr("font-size", 21).text(v);
  });
});

// titles
svg.append("text").attr("x", 45).attr("y", 40).attr("font-size", 30).attr("font-weight", "bold").text("95% RH");
const xt = svg.append("text").attr("x", 350).attr("y", 1497).attr("text-anchor", "middle").attr("font-size", 30);
xt.append("tspan").text("Wavenumber (cm");
xt.append("tspan").attr("font-size", 18).attr("dy", -12).text("-1");
xt.append("tspan").attr("dy", 12).text(")");
svg.append("text").attr("transform", "translate(34,746) rotate(-90)").attr("text-anchor", "middle")
  .attr("font-size", 32).text("Absorbance");
</script>
</body>
</html>
